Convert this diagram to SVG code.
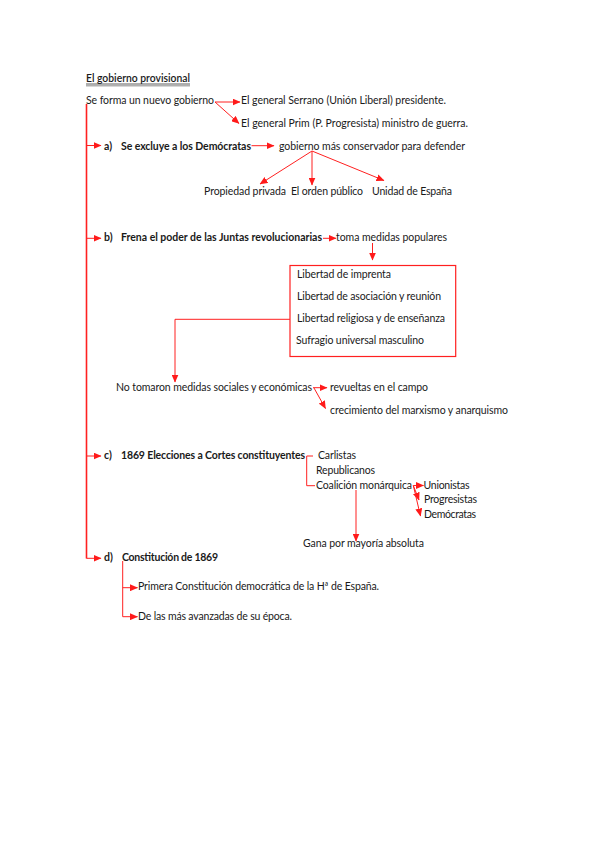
<svg xmlns="http://www.w3.org/2000/svg" width="599" height="848" viewBox="0 0 599 848">
<defs>
<style>
text{font-family:Lato,"Liberation Sans",sans-serif;font-size:10.5px;fill:#1a1a1a}
.b{font-weight:bold}
.c{stroke:#ff2020;stroke-width:1;fill:none}
.m{stroke:#ff2020;stroke-width:1.6;fill:none}
</style>
<marker id="ah" viewBox="0 0 8 7" refX="7.5" refY="3.5" markerWidth="8" markerHeight="7" markerUnits="userSpaceOnUse" orient="auto">
<path d="M0,0 L8,3.5 L0,7 z" fill="#ff1a1a"/>
</marker>
</defs>
<rect width="599" height="848" fill="#ffffff"/>

<g id="title">
<text x="86" y="82" class="b" textLength="104" lengthAdjust="spacingAndGlyphs" style="font-weight:600">El gobierno provisional</text>
<line x1="86" y1="84" x2="190" y2="84" stroke="#333" stroke-width="0.8"/>
<line x1="86" y1="85.6" x2="190" y2="85.6" stroke="#b0b0b0" stroke-width="1.6"/>
</g>

<g id="root"><text x="86" y="103.5" textLength="128" lengthAdjust="spacing">Se forma un nuevo gobierno</text></g>
<g id="serrano"><text x="241" y="103.5" textLength="205" lengthAdjust="spacing">El general Serrano (Unión Liberal) presidente.</text></g>
<g id="prim"><text x="241" y="127" textLength="227" lengthAdjust="spacing">El general Prim (P. Progresista) ministro de guerra.</text></g>

<g id="a"><text x="104" y="150" class="b">a)</text><text x="121" y="150" class="b" textLength="130" lengthAdjust="spacing">Se excluye a los Demócratas</text></g>
<g id="conservador"><text x="279" y="150" textLength="186" lengthAdjust="spacing">gobierno más conservador para defender</text></g>
<g id="propiedad"><text x="204" y="195" textLength="82" lengthAdjust="spacing">Propiedad privada</text></g>
<g id="orden"><text x="291" y="195" textLength="72" lengthAdjust="spacing">El orden público</text></g>
<g id="unidad"><text x="372" y="195" textLength="80" lengthAdjust="spacing">Unidad de España</text></g>

<g id="b"><text x="104" y="241" class="b">b)</text><text x="121" y="241" class="b" textLength="201" lengthAdjust="spacing">Frena el poder de las Juntas revolucionarias</text></g>
<g id="toma"><text x="336" y="241" textLength="111" lengthAdjust="spacing">toma medidas populares</text></g>
<g id="medidas">
<rect x="290" y="265.5" width="165.7" height="91" fill="none" stroke="#ff2020" stroke-width="1.2"/>
<text x="297" y="278" textLength="94" lengthAdjust="spacing">Libertad de imprenta</text>
<text x="297" y="300" textLength="144" lengthAdjust="spacing">Libertad de asociación y reunión</text>
<text x="297" y="322" textLength="148" lengthAdjust="spacing">Libertad religiosa y de enseñanza</text>
<text x="296" y="344" textLength="128" lengthAdjust="spacing">Sufragio universal masculino</text>
</g>
<g id="nosociales"><text x="116" y="391" textLength="196" lengthAdjust="spacing">No tomaron medidas sociales y económicas</text></g>
<g id="revueltas"><text x="330" y="391" textLength="98" lengthAdjust="spacing">revueltas en el campo</text></g>
<g id="marxismo"><text x="330" y="413.5" textLength="178" lengthAdjust="spacing">crecimiento del marxismo y anarquismo</text></g>

<g id="c"><text x="104" y="459" class="b">c)</text><text x="121" y="459" class="b" textLength="184" lengthAdjust="spacing">1869 Elecciones a Cortes constituyentes</text></g>
<g id="carlistas"><text x="318" y="459" textLength="38" lengthAdjust="spacing">Carlistas</text></g>
<g id="republicanos"><text x="316" y="473.5" textLength="59" lengthAdjust="spacing">Republicanos</text></g>
<g id="coalicion"><text x="316" y="488.5" textLength="96" lengthAdjust="spacing">Coalición monárquica</text></g>
<g id="unionistas"><text x="423.5" y="488.5" textLength="46" lengthAdjust="spacing">Unionistas</text></g>
<g id="progresistas"><text x="424" y="502.5" textLength="53" lengthAdjust="spacing">Progresistas</text></g>
<g id="democratas"><text x="424" y="517.5" textLength="52" lengthAdjust="spacing">Demócratas</text></g>
<g id="gana"><text x="303" y="547" textLength="121" lengthAdjust="spacing">Gana por mayoría absoluta</text></g>

<g id="d"><text x="104" y="561" class="b">d)</text><text x="122" y="561" class="b" textLength="96" lengthAdjust="spacing">Constitución de 1869</text></g>
<g id="primera"><text x="138" y="590" textLength="241" lengthAdjust="spacing">Primera Constitución democrática de la Hª de España.</text></g>
<g id="avanzadas"><text x="138" y="619.5" textLength="154" lengthAdjust="spacing">De las más avanzadas de su época.</text></g>

<g id="connectors">
<path class="m" d="M86.5,104 V558.5"/>
<path class="c" d="M86.5,145.5 H101" marker-end="url(#ah)"/>
<path class="c" d="M86.5,238.3 H101" marker-end="url(#ah)"/>
<path class="c" d="M86.5,456 H101" marker-end="url(#ah)"/>
<path class="c" d="M86.5,558.3 H101" marker-end="url(#ah)"/>

<path class="c" d="M215,102 H240" marker-end="url(#ah)"/>
<path class="c" d="M215,102 L239,123.5" marker-end="url(#ah)"/>

<path class="c" d="M251.5,145.7 H274" marker-end="url(#ah)"/>
<path class="c" d="M312,151 L260,184" marker-end="url(#ah)"/>
<path class="c" d="M312,151 V185" marker-end="url(#ah)"/>
<path class="c" d="M312,151 L384,180.5" marker-end="url(#ah)"/>

<path class="c" d="M323,238.3 H336" marker-end="url(#ah)"/>
<path class="c" d="M372.5,243 V260" marker-end="url(#ah)"/>
<path class="c" d="M290,319.3 H175 V382" marker-end="url(#ah)"/>
<path class="c" d="M313,387.7 H327" marker-end="url(#ah)"/>
<path class="c" d="M314,388 L325.5,408.5" marker-end="url(#ah)"/>

<path class="c" d="M313,456 H306.7 V485.7 H315"/>
<path class="c" d="M413.3,485.5 H423.5" marker-end="url(#ah)"/>
<path class="c" d="M413.3,485.5 L419,500" marker-end="url(#ah)"/>
<path class="c" d="M413.3,485.5 L420.5,516" marker-end="url(#ah)"/>
<path class="c" d="M356,490 V541" marker-end="url(#ah)"/>

<path class="c" d="M122.7,561 V616.7 H137.5" marker-end="url(#ah)"/>
<path class="c" d="M122.7,587.7 H137.5" marker-end="url(#ah)"/>
</g>
</svg>
